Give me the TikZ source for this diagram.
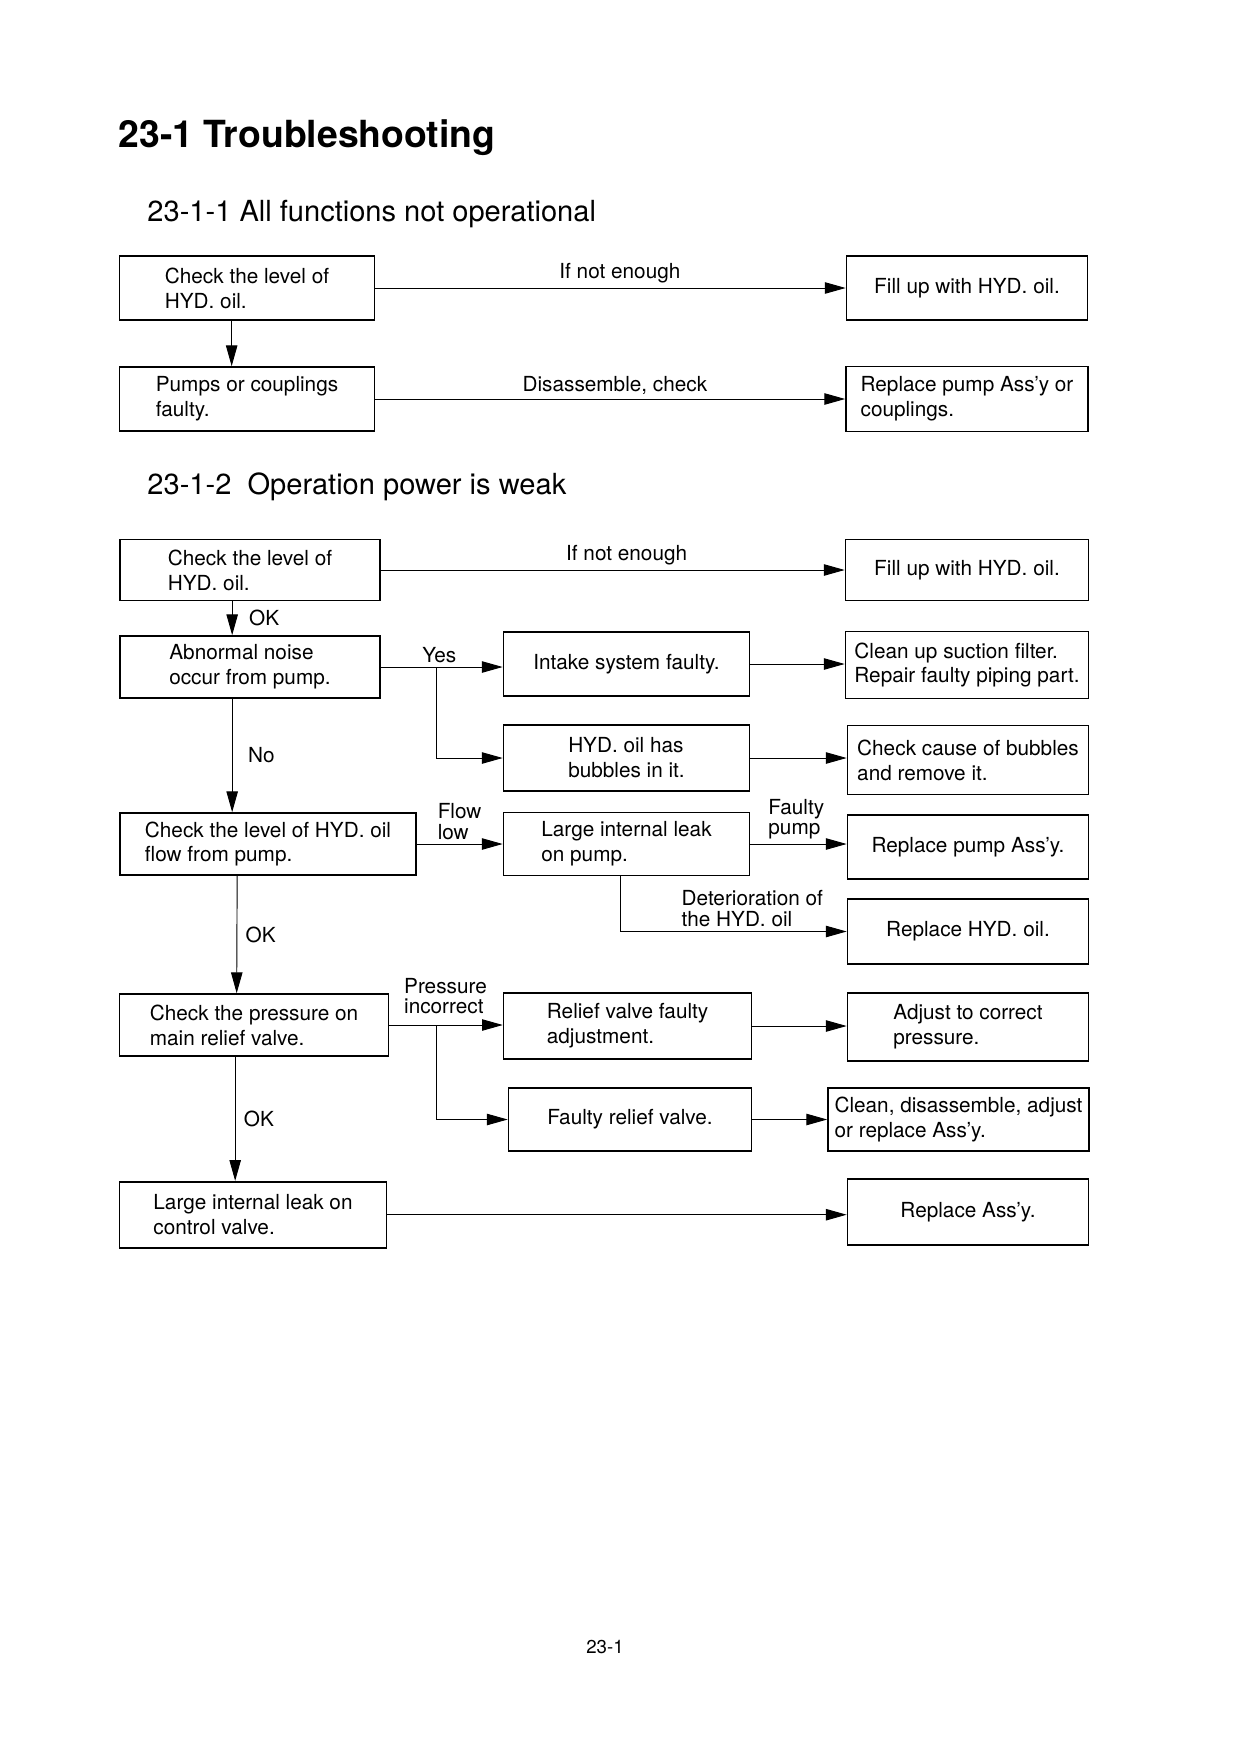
\documentclass[tikz,border=0pt]{standalone}
\usepackage{fontspec}
\setmainfont{TeX Gyre Heros}
\usepackage{tikz}
\usetikzlibrary{positioning, arrows.meta,
calc % for the offset arrows down the left column
}
\newlength\pxu
\setlength\pxu{0.16935mm} % one pixel of the scanned page
\tikzset{%
  box/.style={draw, line width=0.8pt, align=left, inner sep=2pt}, % the boxes of the chart
  lbl/.style={inner sep=2pt, align=left, font=\fontsize{10}{10}\selectfont}, % texts on the arrows
  head/.style={anchor=base west, inner sep=0pt}
}

\begin{document}
\begin{tikzpicture}[x=1\pxu, y=-1\pxu, line width=0.45pt, font=\fontsize{10}{12}\selectfont, >={Triangle[length=10pt,width=5.5pt]}]
\useasboundingbox (0,0) rectangle (1240,1755);

\node[head, font=\fontsize{18}{22}\selectfont\bfseries] (t0) at (118,147) {23-1 Troubleshooting};
\node[head, font=\fontsize{14}{17}\selectfont] (t1) at (147,221) {23-1-1 All functions not operational};

\node[box, minimum width=255\pxu, minimum height=64\pxu] (a0) at (247,288) {Check the level of\\HYD. oil.};
\node[box, minimum width=241\pxu, minimum height=64\pxu] (a1) at (967,288) {Fill up with HYD. oil.};
\node[box, minimum width=255\pxu, minimum height=64\pxu] (a2) at (247,399) {Pumps or couplings\\faulty.};
\node[box, minimum width=242\pxu, minimum height=65\pxu] (a3) at (967,399) {Replace pump Ass'y or\\couplings.};

\draw[->] (a0) -- node[lbl, above, pos=0.52] {If not enough} (a1);
\draw[->] ($(a0.south west)+(113,0)$) -- ($(a2.north west)+(113,0)$);
\draw[->] (a2) -- node[lbl, above, pos=0.51] {Disassemble, check} (a3);

\node[head, font=\fontsize{14}{17}\selectfont] (t2) at (147,494) {23-1-2\ \ Operation power is weak};

\node[box, minimum width=260\pxu, minimum height=61\pxu] (b0) at (250,570) {Check the level of\\HYD. oil.};
\node[box, minimum width=243\pxu, minimum height=61\pxu] (b1) at (967,570) {Fill up with HYD. oil.};
\node[box, minimum width=260\pxu, minimum height=62\pxu] (b2) at (250,667) {Abnormal noise\\occur from pump.};
\node[box, minimum width=246\pxu, minimum height=64\pxu] (b3) at (626.5,664) {Intake system faulty.};
\node[box, minimum width=243\pxu, minimum height=67\pxu] (b4) at (967,665) {Clean up suction filter.\\Repair faulty piping part.};
\node[box, minimum width=246\pxu, minimum height=66\pxu] (b5) at (626.5,758) {HYD. oil has\\bubbles in it.};
\node[box, minimum width=241\pxu, minimum height=69\pxu] (b6) at (968,760) {Check cause of bubbles\\and remove it.};
\node[box, minimum width=296\pxu, minimum height=62\pxu] (b7) at (268,844) {Check the level of HYD. oil\\flow from pump.};
\node[box, minimum width=246\pxu, minimum height=63\pxu] (b8) at (626.5,844) {Large internal leak\\on pump.};
\node[box, minimum width=241\pxu, minimum height=64\pxu] (b9) at (968,847) {Replace pump Ass'y.};
\node[box, minimum width=241\pxu, minimum height=65\pxu] (b10) at (968,931.5) {Replace HYD. oil.};
\node[box, minimum width=269\pxu, minimum height=62\pxu] (b11) at (254,1025) {Check the pressure on\\main relief valve.};
\node[box, minimum width=248\pxu, minimum height=66\pxu] (b12) at (627.6,1026) {Relief valve faulty\\adjustment.};
\node[box, minimum width=241\pxu, minimum height=68\pxu] (b13) at (968,1027) {Adjust to correct\\pressure.};
\node[box, minimum width=243\pxu, minimum height=63\pxu] (b14) at (630,1119.5) {Faulty relief valve.};
\node[box, minimum width=261\pxu, minimum height=63\pxu] (b15) at (958.5,1119.5) {Clean, disassemble, adjust\\or replace Ass'y.};
\node[box, minimum width=267\pxu, minimum height=66\pxu] (b16) at (253,1214.7) {Large internal leak on\\control valve.};
\node[box, minimum width=241\pxu, minimum height=66\pxu] (b17) at (968,1212) {Replace Ass'y.};

\draw[->] (b0) -- node[lbl, above, pos=0.53] {If not enough} (b1);
\draw[->] ($(b0.south west)+(113,0)$) -- node[lbl, right=6pt] {OK} ($(b2.north west)+(113,0)$);
\draw[->] (b2.east) -- node[lbl, above, pos=0.48] {Yes} (b2.east -| b3.west);
\draw[->] ($(b2.east)+(56,0)$) |- (b5.west);
\draw[->] (b3.east) -- (b3.east -| b4.west);
\draw[->] (b5.east) -- (b5.east -| b6.west);
\draw[->] ($(b2.south west)+(113,0)$) -- node[lbl, right=5.5pt] {No} ($(b7.north west)+(113,0)$);
\draw[->] (b7.east) -- node[lbl, above right, pos=0.19] {Flow\\low} (b7.east -| b8.west);
\draw[->] (b8.east) -- node[lbl, above right, pos=0.14] {Faulty\\pump} (b8.east -| b9.west);
\draw[->] ($(b8.south)+(-6,0)$) |- node[lbl, above right, pos=0.625] {Deterioration of\\the HYD. oil} (b10.west);
\draw[->] ($(b7.south west)+(118,0)$) -- node[lbl, right=2pt] {OK} ($(b11.north west)+(118,0)$);
\draw[->] (b11.east) -- node[lbl, above right, pos=0.09, yshift=3pt] {Pressure\\incorrect} (b11.east -| b12.west);
\draw[->] ($(b11.east)+(47,0)$) |- (b14.west);
\draw[->] (b12.east) -- (b12.east -| b13.west);
\draw[->] (b14.east) -- (b14.east -| b15.west);
\draw[->] ($(b11.south west)+(116.5,0)$) -- node[lbl, right=2pt] {OK} ($(b16.north west)+(116.5,0)$);
\draw[->] (b16.east) -- (b16.east -| b17.west);

\node[font=\fontsize{9}{11}\selectfont] (pg) at (605,1647) {23-1};

\end{tikzpicture}
\end{document}
